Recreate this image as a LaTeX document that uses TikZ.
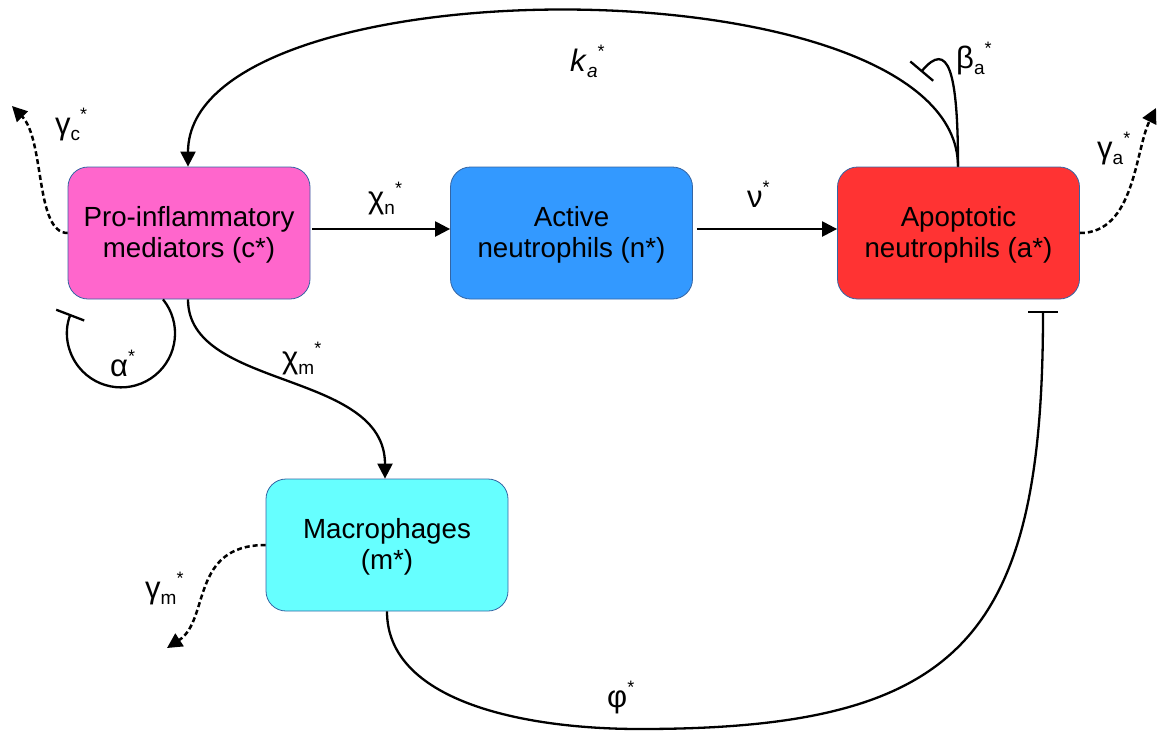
\documentclass[tikz,border=0pt]{standalone}
\usepackage{fontspec}
\setmainfont{Liberation Sans}
\usetikzlibrary{arrows.meta,calc}
\definecolor{boxedge}{HTML}{3465A4}
\definecolor{cpink}{HTML}{FF66CC}
\definecolor{nblue}{HTML}{3399FF}
\definecolor{ared}{HTML}{FF3333}
\definecolor{mcyan}{HTML}{66FFFF}
\newcommand{\symlab}[2]{{\fontsize{31}{31}\selectfont #1}\raisebox{-6pt}{\fontsize{19}{19}\selectfont #2}\raisebox{14pt}{\fontsize{18}{18}\selectfont *}}
\newcommand{\symstar}[1]{{\fontsize{31}{31}\selectfont #1}\raisebox{14pt}{\fontsize{18}{18}\selectfont *}}
\begin{document}
\begin{tikzpicture}[x=1pt,y=-1pt,
 box/.style={draw=boxedge, line width=0.8pt, rounded corners=20pt, minimum width=242pt, minimum height=132pt, align=center, font=\fontsize{27.7}{30.5}\selectfont, inner sep=0pt},
 conn/.style={line width=2.3pt, draw=black},
 arr/.style={-{Triangle[length=15pt,width=15pt]}},
 inh/.style={-{Bar[width=30pt,line width=2.3pt]}},
 dsh/.style={line width=2.5pt, dash pattern=on 5pt off 3pt},
 lbl/.style={font=\fontsize{27}{30}\selectfont, inner sep=0pt, anchor=base west}]
\useasboundingbox (0,0) rectangle (1158,732);
\node[box, fill=cpink] (c) at (189,233) {\rule{0pt}{24pt}Pro-inflammatory\\mediators (c*)};
\node[box, fill=nblue] (n) at (571.5,233) {\rule{0pt}{24pt}Active\\neutrophils (n*)};
\node[box, fill=ared] (a) at (958.5,233) {\rule{0pt}{24pt}Apoptotic\\neutrophils (a*)};
\node[box, fill=mcyan] (m) at (387,545) {\rule{0pt}{24pt}Macrophages\\(m*)};
\coordinate (betabar) at (921,72);
\coordinate (phibar) at (1043,311);
\coordinate (gcend) at (12,106);
\coordinate (gaend) at (1156,108);
\coordinate (gmend) at (167,648);
% straight arrows
\draw[conn,arr] ([xshift=2pt,yshift=4pt]c.east) -- ([yshift=4pt]n.west);
\draw[conn,arr] ([xshift=4pt,yshift=4pt]n.east) -- ([yshift=4pt]a.west);
% k_a
\draw[conn,arr] ([xshift=-0.5pt]a.north) .. controls +(0,-207) and +(0,-207) .. ([xshift=-1pt]c.north);
% beta loop
\draw[conn,inh] ([xshift=-0.5pt]a.north) .. controls (958,70) and (948,40) .. (betabar);
% alpha loop
\draw[conn,inh] ([xshift=-26pt]c.south) arc[start angle=39,end angle=-201,radius=54pt];
% chi_m
\draw[conn,arr] ([xshift=-1pt]c.south) .. controls (188,390) and (385,370) .. ([xshift=-2pt]m.north);
% phi
\draw[conn,inh] (m.south) .. controls (387,700) and (520,729) .. (640,729) .. controls (960,729) and (1043,640) .. (phibar);
% degradation
\draw[conn,dsh,arr] (c.west) .. controls (35,233) and (45,140) .. (gcend);
\draw[conn,dsh,arr] (a.east) .. controls (1135,233) and (1135,150) .. (gaend);
\draw[conn,dsh,arr] (m.west) .. controls (190,545) and (210,620) .. (gmend);
% labels
\node[lbl] (lgc) at (55,134) {\symlab{γ}{c}};
\node[lbl] (lka) at (570,71) {\symlab{\textit{k}}{\textit{a}}};
\node[lbl] (lba) at (956,68) {\symlab{β}{a}};
\node[lbl] (lga) at (1097,158) {\symlab{γ}{a}};
\node[lbl] (lcn) at (368,208) {\symlab{χ}{n}};
\node[lbl] (lnu) at (747,207) {\symstar{ν}};
\node[lbl] (lcm) at (282,368) {\symlab{χ}{m}};
\node[lbl] (lal) at (110,376) {\symstar{α}};
\node[lbl] (lgm) at (145,598) {\symlab{γ}{m}};
\node[lbl] (lph) at (607,707) {\symstar{φ}};
\end{tikzpicture}
\end{document}
